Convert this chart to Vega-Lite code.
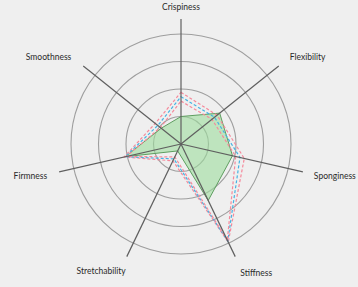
{
  "$schema": "https://vega.github.io/schema/vega-lite/v6.json",
  "width": 358,
  "height": 287,
  "autosize": {"type": "fit", "contains": "padding"},
  "padding": 0,
  "background": "#efefef",
  "config": {"view": {"stroke": null}},
  "datasets": {
    "axes": [
      {"axis": "Crispiness", "i": 0},
      {"axis": "Flexibility", "i": 1},
      {"axis": "Sponginess", "i": 2},
      {"axis": "Stiffness", "i": 3},
      {"axis": "Stretchability", "i": 4},
      {"axis": "Firmness", "i": 5},
      {"axis": "Smoothness", "i": 6}
    ],
    "rings": [{"r": 25}, {"r": 50}, {"r": 75}, {"r": 100}],
    "green": [
      {"axis": "Crispiness", "i": 0, "v": 25},
      {"axis": "Flexibility", "i": 1, "v": 45},
      {"axis": "Sponginess", "i": 2, "v": 48},
      {"axis": "Stiffness", "i": 3, "v": 57},
      {"axis": "Stretchability", "i": 4, "v": 7},
      {"axis": "Firmness", "i": 5, "v": 52},
      {"axis": "Smoothness", "i": 6, "v": 23}
    ],
    "dashed": [
      {"s": "A", "i": 0, "v": 47},
      {"s": "A", "i": 1, "v": 42},
      {"s": "A", "i": 2, "v": 59},
      {"s": "A", "i": 3, "v": 99},
      {"s": "A", "i": 4, "v": 17},
      {"s": "A", "i": 5, "v": 53},
      {"s": "A", "i": 6, "v": 30},
      {"s": "B", "i": 0, "v": 43},
      {"s": "B", "i": 1, "v": 39},
      {"s": "B", "i": 2, "v": 55},
      {"s": "B", "i": 3, "v": 98},
      {"s": "B", "i": 4, "v": 15},
      {"s": "B", "i": 5, "v": 52},
      {"s": "B", "i": 6, "v": 27},
      {"s": "C", "i": 0, "v": 39},
      {"s": "C", "i": 1, "v": 36},
      {"s": "C", "i": 2, "v": 51},
      {"s": "C", "i": 3, "v": 97},
      {"s": "C", "i": 4, "v": 13},
      {"s": "C", "i": 5, "v": 51},
      {"s": "C", "i": 6, "v": 24}
    ]
  },
  "encoding": {
    "x": {"field": "x", "type": "quantitative", "scale": {"domain": [-181, 177], "nice": false, "zero": false}, "axis": null},
    "y": {"field": "y", "type": "quantitative", "scale": {"domain": [-143, 144], "nice": false, "zero": false}, "axis": null}
  },
  "layer": [
    {
      "data": {"name": "rings"},
      "transform": [
        {"calculate": "4 * (1.1 * datum.r) * (1.1 * datum.r)", "as": "sz"},
        {"calculate": "0", "as": "x"},
        {"calculate": "0", "as": "y"}
      ],
      "mark": {"type": "point", "shape": "circle", "filled": false, "color": "#9e9e9e", "strokeWidth": 1.1, "opacity": 1},
      "encoding": {
        "size": {"field": "sz", "type": "quantitative", "scale": {"type": "linear", "domain": [0, 48400], "range": [0, 48400], "zero": true}, "legend": null}
      }
    },
    {
      "data": {"name": "green"},
      "transform": [
        {"calculate": "datum.i * 2 * PI / 7", "as": "a"},
        {"calculate": "datum.v * 1.1 * sin(datum.a)", "as": "x"},
        {"calculate": "datum.v * 1.1 * cos(datum.a)", "as": "y"}
      ],
      "mark": {"type": "line", "interpolate": "linear-closed", "filled": true, "fill": "#9ddc9d", "fillOpacity": 0.6, "stroke": "#5e9e60", "strokeWidth": 1},
      "encoding": {"order": {"field": "i", "type": "quantitative"}}
    },
    {
      "data": {"name": "dashed"},
      "transform": [
        {"calculate": "datum.i * 2 * PI / 7", "as": "a"},
        {"calculate": "datum.v * 1.1 * sin(datum.a)", "as": "x"},
        {"calculate": "datum.v * 1.1 * cos(datum.a)", "as": "y"}
      ],
      "mark": {"type": "line", "interpolate": "linear-closed", "strokeDash": [3, 2], "strokeWidth": 1.2},
      "encoding": {
        "order": {"field": "i", "type": "quantitative"},
        "color": {"field": "s", "type": "nominal", "scale": {"domain": ["A", "B", "C"], "range": ["#f5899b", "#45b3e3", "#f5899b"]}, "legend": null}
      }
    },
    {
      "data": {"name": "axes"},
      "transform": [
        {"calculate": "datum.i * 2 * PI / 7", "as": "a"},
        {"calculate": "125 * sin(datum.a)", "as": "x"},
        {"calculate": "125 * cos(datum.a)", "as": "y"}
      ],
      "mark": {"type": "rule", "stroke": "#5f5f5f", "strokeWidth": 1.2},
      "encoding": {
        "x": {"datum": 0, "type": "quantitative"},
        "y": {"datum": 0, "type": "quantitative"},
        "x2": {"field": "x"},
        "y2": {"field": "y"}
      }
    },
    {
      "data": {"name": "rings"},
      "transform": [{"filter": "datum.r == 25"}],
      "mark": {"type": "point", "filled": true, "color": "#222222", "size": 8, "opacity": 1},
      "encoding": {
        "x": {"datum": 0, "type": "quantitative"},
        "y": {"datum": 0, "type": "quantitative"}
      }
    },
    {
      "data": {"name": "axes"},
      "transform": [
        {"filter": "datum.i == 0"},
        {"calculate": "0", "as": "x"},
        {"calculate": "137", "as": "y"}
      ],
      "mark": {"type": "text", "font": "Lato", "fontSize": 8.5, "color": "#2a2a2a", "align": "center", "baseline": "middle"},
      "encoding": {"text": {"field": "axis"}}
    },
    {
      "data": {"name": "axes"},
      "transform": [
        {"filter": "datum.i >= 1 && datum.i <= 3"},
        {"calculate": "datum.i * 2 * PI / 7", "as": "a"},
        {"calculate": "125 * sin(datum.a) + (abs(cos(datum.a)) > 0.8 ? 5 : 11)", "as": "x"},
        {"calculate": "125 * cos(datum.a) + (cos(datum.a) > 0 ? 9 : (cos(datum.a) < -0.5 ? -16 : -4))", "as": "y"}
      ],
      "mark": {"type": "text", "font": "Lato", "fontSize": 8.5, "color": "#2a2a2a", "align": "left", "baseline": "middle"},
      "encoding": {"text": {"field": "axis"}}
    },
    {
      "data": {"name": "axes"},
      "transform": [
        {"filter": "datum.i >= 4"},
        {"calculate": "datum.i * 2 * PI / 7", "as": "a"},
        {"calculate": "125 * sin(datum.a) - (abs(cos(datum.a)) > 0.8 ? 1 : 12)", "as": "x"},
        {"calculate": "125 * cos(datum.a) + (cos(datum.a) > 0 ? 9 : (cos(datum.a) < -0.5 ? -14 : -4))", "as": "y"}
      ],
      "mark": {"type": "text", "font": "Lato", "fontSize": 8.5, "color": "#2a2a2a", "align": "right", "baseline": "middle"},
      "encoding": {"text": {"field": "axis"}}
    }
  ]
}
